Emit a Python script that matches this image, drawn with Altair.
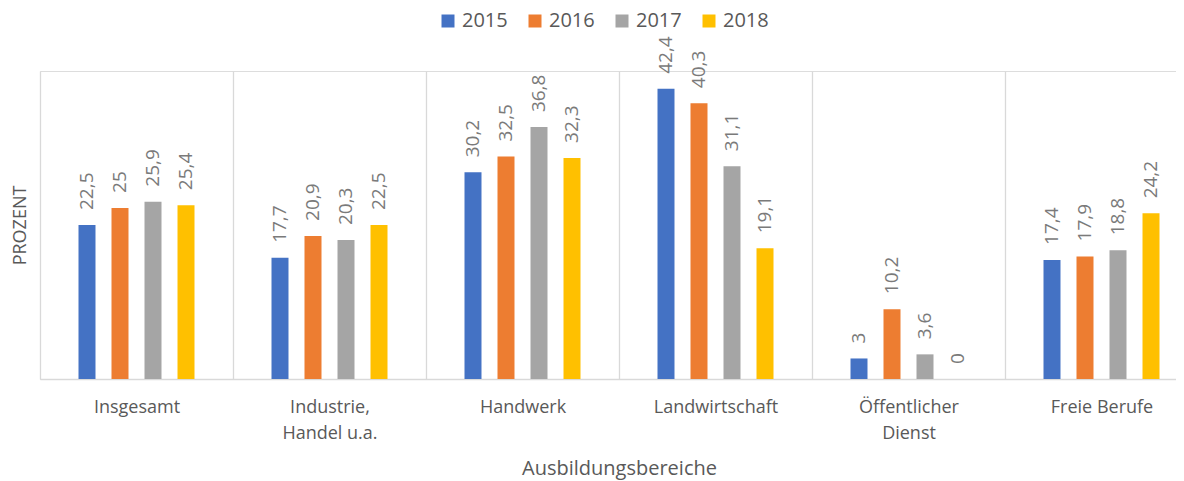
import altair as alt
import pandas as pd

categories = ["Insgesamt", "Industrie, Handel u.a.", "Handwerk", "Landwirtschaft",
              "Öffentlicher Dienst", "Freie Berufe"]
years = ["2015", "2016", "2017", "2018"]
values_2015 = [22.5, 17.7, 30.2, 42.4, 3.0, 17.4]
values_2016 = [25.0, 20.9, 32.5, 40.3, 10.2, 17.9]
values_2017 = [25.9, 20.3, 36.8, 31.1, 3.6, 18.8]
values_2018 = [25.4, 22.5, 32.3, 19.1, 0.0, 24.2]
colors = ["#4472C4", "#ED7D31", "#A5A5A5", "#FFC000"]

series = dict(zip(years, [values_2015, values_2016, values_2017, values_2018]))


def de_label(v):
    s = ("%g" % v)
    return s.replace(".", ",")


rows = []
for y in years:
    for c, v in zip(categories, series[y]):
        rows.append({"Bereich": c, "Jahr": y, "Wert": v, "Label": de_label(v)})
df = pd.DataFrame(rows)

FONT = "Open Sans"
TXT = "#595959"

label_expr = ("datum.value == 'Industrie, Handel u.a.' ? ['Industrie,', 'Handel u.a.'] : "
              "datum.value == 'Öffentlicher Dienst' ? ['Öffentlicher', 'Dienst'] : datum.value")

x_enc = alt.X(
    "Bereich:N",
    sort=categories,
    scale=alt.Scale(range=[0, 1158], paddingInner=0, paddingOuter=0),
    axis=alt.Axis(
        title="Ausbildungsbereiche",
        titleFont=FONT, titleFontSize=20, titleFontWeight="normal", titleColor=TXT,
        titleX=579, titleY=95, titleBaseline="alphabetic", titleAnchor="middle",
        labelFont=FONT, labelFontSize=18, labelColor=TXT, labelAngle=0,
        labelPadding=19, labelLineHeight=26, labelExpr=label_expr,
        ticks=False, tickSize=0, tickBand="extent",
        grid=True, gridColor="#D9D9D9", gridWidth=1.3,
        domain=True, domainColor="#D9D9D9", domainWidth=1.3,
    ),
)
y_enc = alt.Y(
    "Wert:Q",
    scale=alt.Scale(domain=[0, 45], nice=False),
    axis=alt.Axis(
        title="PROZENT", titleFont=FONT, titleFontSize=18, titleFontWeight="normal",
        titleColor=TXT, titleAngle=270, titleX=-15, titleY=154,
        titleBaseline="alphabetic", titleAlign="center",
        labels=False, ticks=False, domain=False, grid=False,
    ),
)
xoff = alt.XOffset("Jahr:N", sort=years,
                   scale=alt.Scale(range=[38.5, 154.5], paddingInner=0.485, paddingOuter=0))

bars = alt.Chart(df).mark_bar().encode(
    x=x_enc,
    y=y_enc,
    xOffset=xoff,
    color=alt.Color(
        "Jahr:N", sort=years,
        scale=alt.Scale(domain=years, range=colors),
        legend=alt.Legend(
            title=None, orient="none", legendX=398, legendY=-60,
            direction="horizontal", columns=4, symbolType="square",
            symbolSize=169, symbolStrokeWidth=0, labelFont=FONT, labelFontSize=20,
            labelColor=TXT, labelOffset=4, columnPadding=17, labelLimit=300,
        ),
    ),
)

labels = alt.Chart(df).mark_text(
    angle=270, align="left", baseline="middle", dx=15,
    font=FONT, fontSize=19, color="#7A7A7A",
).encode(
    x=alt.X("Bereich:N", sort=categories),
    y=alt.Y("Wert:Q"),
    xOffset=alt.XOffset("Jahr:N", sort=years),
    text="Label:N",
)

chart = alt.layer(bars, labels).properties(
    width=1136, height=308,
    autosize=alt.AutoSizeParams(type="none"),
    padding={"left": 32, "top": 63, "right": 0, "bottom": 102},
).configure_view(stroke=None).configure(background="white")

chart.save("out.html", embed_options={"renderer": "svg", "actions": False})
